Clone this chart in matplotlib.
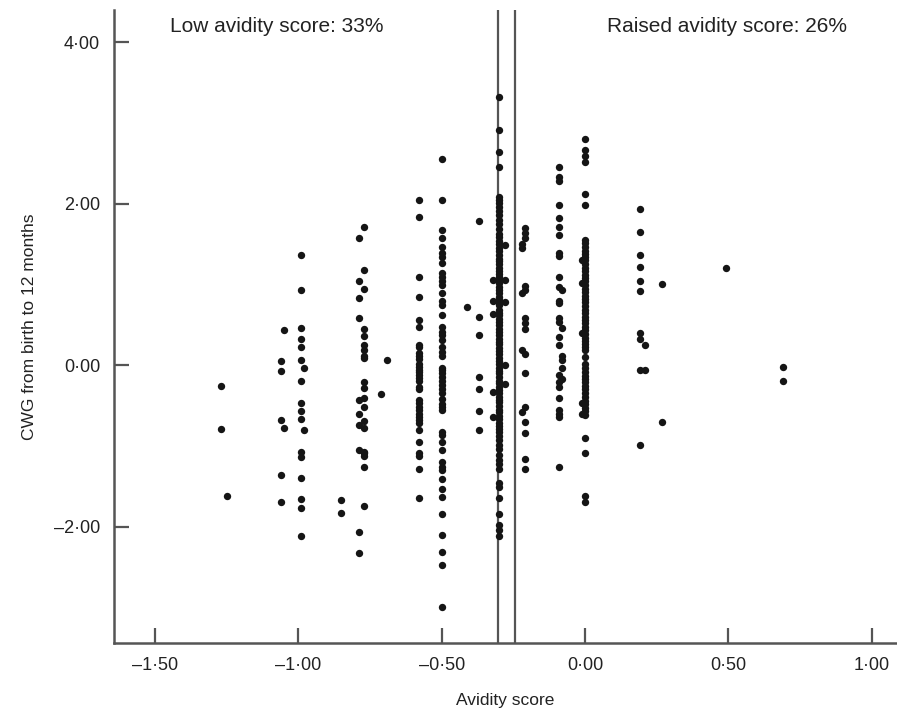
import matplotlib
matplotlib.use("Agg")
import matplotlib.pyplot as plt
from matplotlib.ticker import FuncFormatter

plt.rcParams['font.family'] = ['Liberation Sans', 'DejaVu Sans']

# avidity score columns (x) and CWG values (y)
x_a, y_a = -1.27, [-0.26, -0.79]
x_a2, y_a2 = -1.25, [-1.62]
x_b, y_b = -1.06, [0.05, -0.07, -0.68, -1.36, -1.70]
x_b2, y_b2 = -1.05, [0.43, -0.78]
x_c, y_c = -0.99, [1.37, 0.93, 0.46, 0.32, 0.22, 0.07, -0.20, -0.47, -0.57, -0.66,
                   -1.08, -1.14, -1.40, -1.66, -1.77, -2.12]
x_c2, y_c2 = -0.98, [-0.04, -0.80]
x_d, y_d = -0.85, [-1.67, -1.83]
x_e, y_e = -0.79, [1.57, 1.04, 0.83, 0.59, -0.43, -0.60, -0.74, -1.05, -2.07, -2.33]
x_e2, y_e2 = -0.77, [1.71, 1.18, 0.95, 0.45, 0.36, 0.25, 0.19, 0.12, 0.09, -0.21, -0.28,
                     -0.41, -0.52, -0.69, -0.78, -1.07, -1.09, -1.12, -1.26, -1.74]
x_f, y_f = -0.69, [0.07]
x_f2, y_f2 = -0.71, [-0.36]
x_g, y_g = -0.58, [2.04, 1.84, 1.09, 0.85, 0.56, 0.47, 0.25, 0.22, 0.15, 0.12, 0.08, 0.02,
                   -0.02, -0.06, -0.08, -0.12, -0.16, -0.20, -0.27, -0.30, -0.43, -0.47,
                   -0.52, -0.56, -0.60, -0.64, -0.68, -0.72, -0.80, -0.95, -1.09, -1.12,
                   -1.29, -1.65]
x_h, y_h = -0.50, [2.56, 2.05, 1.68, 1.57, 1.46, 1.39, 1.34, 1.26, 1.14, 1.09, 1.04, 0.99,
                   0.89, 0.80, 0.74, 0.62, 0.47, 0.41, 0.37, 0.31, 0.22, 0.16, 0.12, -0.04,
                   -0.06, -0.10, -0.15, -0.20, -0.25, -0.30, -0.35, -0.42, -0.48, -0.52,
                   -0.56, -0.83, -0.87, -0.95, -1.05, -1.20, -1.26, -1.30, -1.41, -1.53,
                   -1.63, -1.84, -2.10, -2.31, -2.48, -2.99]
x_i, y_i = -0.41, [0.72]
x_j, y_j = -0.37, [1.78, 0.60, 0.37, -0.14, -0.29, -0.57, -0.80]
x_k, y_k = -0.30, [3.32, 2.91, 2.64, 2.46, 2.08, 2.05, 2.01, 1.96, 1.91, 1.86, 1.80, 1.75,
                   1.69, 1.63, 1.59, 1.54, 1.50, 1.45, 1.41, 1.37, 1.32, 1.29, 1.25, 1.20,
                   1.17, 1.13, 1.09, 1.05, 1.02, 0.97, 0.93, 0.90, 0.85, 0.81, 0.77, 0.74,
                   0.69, 0.65, 0.62, 0.57, 0.53, 0.50, 0.45, 0.41, 0.38, 0.33, 0.29, 0.26,
                   0.21, 0.17, 0.14, 0.09, 0.05, 0.02, -0.03, -0.07, -0.10, -0.15, -0.19,
                   -0.22, -0.27, -0.31, -0.34, -0.39, -0.43, -0.46, -0.51, -0.55, -0.58,
                   -0.63, -0.67, -0.71, -0.75, -0.79, -0.83, -0.88, -0.93, -0.99, -1.04,
                   -1.11, -1.17, -1.22, -1.29, -1.46, -1.51, -1.65, -1.84, -1.98, -2.04,
                   -2.11]
x_k2, y_k2 = -0.28, [1.49, 1.06, 0.78, 0.00, -0.23]
x_k3, y_k3 = -0.32, [1.05, 0.80, 0.64, -0.33, -0.64]
x_l, y_l = -0.21, [1.70, 1.64, 1.58, 0.98, 0.93, 0.58, 0.52, 0.45, 0.14, -0.10, -0.52,
                   -0.70, -0.84, -1.16, -1.28]
x_l2, y_l2 = -0.22, [1.50, 1.45, 0.89, 0.19, -0.58]
x_m, y_m = -0.09, [2.46, 2.33, 2.28, 1.98, 1.82, 1.71, 1.61, 1.39, 1.35, 1.09, 0.97, 0.80,
                   0.77, 0.59, 0.53, 0.35, 0.25, -0.12, -0.21, -0.27, -0.40, -0.55, -0.60,
                   -0.64, -1.26]
x_m2, y_m2 = -0.08, [0.93, 0.46, 0.12, 0.06, -0.04, -0.17]
x_n, y_n = 0.00, [2.80, 2.66, 2.59, 2.52, 2.12, 1.99, 1.55, 1.51, 1.47, 1.42, 1.38, 1.34,
                  1.30, 1.25, 1.21, 1.17, 1.12, 1.08, 1.04, 0.99, 0.95, 0.91, 0.86, 0.82,
                  0.78, 0.73, 0.69, 0.65, 0.60, 0.56, 0.52, 0.47, 0.43, 0.39, 0.34, 0.30,
                  0.26, 0.22, 0.19, 0.10, 0.01, -0.04, -0.08, -0.13, -0.17, -0.21, -0.26,
                  -0.30, -0.35, -0.39, -0.44, -0.48, -0.53, -0.57, -0.62, -0.90, -1.09,
                  -1.62, -1.69]
x_n2, y_n2 = -0.01, [1.30, 1.02, 0.40, -0.47, -0.60]
x_o, y_o = 0.19, [1.94, 1.65, 1.36, 1.22, 1.04, 0.92, 0.40, 0.33, -0.06, -0.99]
x_o2, y_o2 = 0.21, [0.25, -0.06]
x_p, y_p = 0.27, [1.01, -0.70]
x_q, y_q = 0.49, [1.20]
x_r, y_r = 0.69, [-0.02, -0.20]

columns = [(x_a, y_a), (x_a2, y_a2), (x_b, y_b), (x_b2, y_b2), (x_c, y_c), (x_c2, y_c2),
           (x_d, y_d), (x_e, y_e), (x_e2, y_e2), (x_f, y_f), (x_f2, y_f2), (x_g, y_g),
           (x_h, y_h), (x_i, y_i), (x_j, y_j), (x_k, y_k), (x_k2, y_k2), (x_k3, y_k3),
           (x_l, y_l), (x_l2, y_l2), (x_m, y_m), (x_m2, y_m2), (x_n, y_n), (x_n2, y_n2),
           (x_o, y_o), (x_o2, y_o2), (x_p, y_p), (x_q, y_q), (x_r, y_r)]

cut_low = -0.305
cut_high = -0.245
xticks = [-1.5, -1.0, -0.5, 0.0, 0.5, 1.0]
yticks = [-2.0, 0.0, 2.0, 4.0]

xs = []
ys = []
for cx, cy in columns:
    xs += [cx] * len(cy)
    ys += cy

fig = plt.figure(figsize=(8.97, 7.10), dpi=100)
ax = fig.add_axes([0.127, 0.0944, 0.873, 0.8916])

ax.scatter(xs, ys, s=28, color='#151515', linewidths=0, zorder=3)
ax.axvline(cut_low, color='#555555', lw=1.6, zorder=2)
ax.axvline(cut_high, color='#555555', lw=1.6, zorder=2)

ax.set_xlim(-1.643, 1.088)
ax.set_ylim(-3.44, 4.40)

fmt = FuncFormatter(lambda v, p: f"{v:.2f}".replace('.', '\u00b7').replace('-', '\u2013'))
ax.xaxis.set_major_formatter(fmt)
ax.yaxis.set_major_formatter(fmt)
ax.set_xticks(xticks)
ax.set_yticks(yticks)
ax.tick_params(direction='in', length=11, width=1.6, color='#555555',
               labelsize=13, labelcolor='#222222', pad=10)

for side in ['top', 'right']:
    ax.spines[side].set_visible(False)
for side in ['left', 'bottom']:
    ax.spines[side].set_color('#555555')
    ax.spines[side].set_linewidth(1.8)

ax.set_xlabel('Avidity score', fontsize=12.5, color='#222222', labelpad=14)
ax.set_ylabel('CWG from birth to 12 months', fontsize=12.5, color='#222222', labelpad=12)

ax.text(-1.448, 4.19, 'Low avidity score: 33%', fontsize=15, color='#222222', va='center')
ax.text(0.077, 4.19, 'Raised avidity score: 26%', fontsize=15, color='#222222', va='center')

fig.savefig('out.png', dpi=100)
